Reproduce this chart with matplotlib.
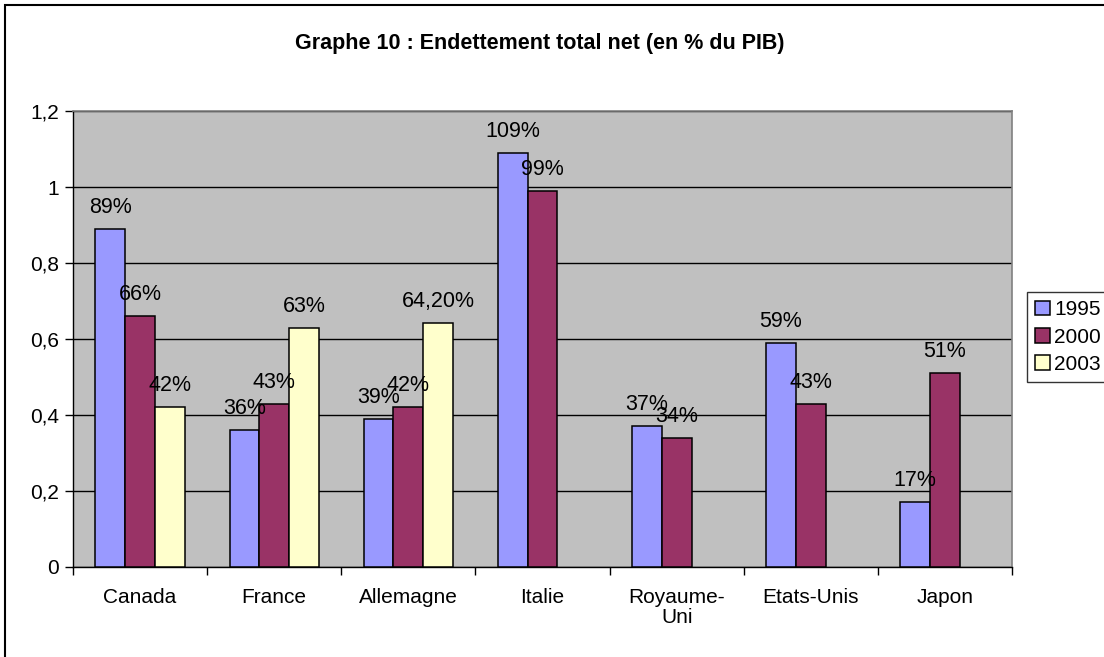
import matplotlib.pyplot as plt
import numpy as np
from matplotlib.patches import Rectangle
from matplotlib.ticker import FuncFormatter, FixedLocator

plt.rcParams['font.family'] = ['Liberation Sans', 'DejaVu Sans']

countries = ['Canada', 'France', 'Allemagne', 'Italie', 'Royaume-\nUni', 'Etats-Unis', 'Japon']
years = ['1995', '2000', '2003']
v1995 = [0.89, 0.36, 0.39, 1.09, 0.37, 0.59, 0.17]
v2000 = [0.66, 0.43, 0.42, 0.99, 0.34, 0.43, 0.51]
v2003 = [0.42, 0.63, 0.642, np.nan, np.nan, np.nan, np.nan]
lab1995 = ['89%', '36%', '39%', '109%', '37%', '59%', '17%']
lab2000 = ['66%', '43%', '42%', '99%', '34%', '43%', '51%']
lab2003 = ['42%', '63%', '64,20%', '', '', '', '']
colors = ['#9999FF', '#993366', '#FFFFCC']

fig = plt.figure(figsize=(11.04, 6.57), dpi=100)
ax = fig.add_axes([73 / 1104, 1 - 567 / 657, (1012 - 73) / 1104, (567 - 111) / 657])
ax.set_facecolor('#C0C0C0')

# Excel-ish layout: 3 bars + 150% gap per category
bw = 1 / 4.5
x = np.arange(len(countries))
series = [v1995, v2000, v2003]
labels = [lab1995, lab2000, lab2003]
for i, (vals, labs) in enumerate(zip(series, labels)):
    pos = x + (i - 1) * bw
    ax.bar(pos, vals, width=bw, color=colors[i], edgecolor='black', linewidth=1.1,
           label=years[i], zorder=3)
    for p, v, t in zip(pos, vals, labs):
        if t:
            ax.annotate(t, (p, v), xytext=(0, 11.5), textcoords='offset points',
                        ha='center', va='baseline', fontsize=15.5, zorder=4)

ax.set_xlim(-0.5, len(countries) - 0.5)
ax.set_ylim(0, 1.2)
ax.set_yticks(np.arange(0, 1.21, 0.2))
ax.yaxis.set_major_formatter(FuncFormatter(lambda v, p: ('%g' % round(v, 1)).replace('.', ',')))
ax.grid(axis='y', color='black', linewidth=1, zorder=1)
ax.set_axisbelow(True)

ax.set_xticks(x)
ax.set_xticklabels(countries, fontsize=15, linespacing=1.05)
ax.xaxis.set_minor_locator(FixedLocator(np.arange(-0.5, len(countries), 1)))
ax.tick_params(axis='x', which='major', length=0, pad=15)
ax.tick_params(axis='x', which='minor', length=6, width=1, direction='out')
ax.tick_params(axis='y', length=6, width=1, direction='out', labelsize=15, pad=4)

for s in ['top', 'right']:
    ax.spines[s].set_color('#808080')
    ax.spines[s].set_linewidth(1.2)
for s in ['left', 'bottom']:
    ax.spines[s].set_color('black')
    ax.spines[s].set_linewidth(1)

fig.text(540 / 1104, 1 - 44 / 657, 'Graphe 10 : Endettement total net (en % du PIB)',
         ha='center', va='center', fontsize=15.5, fontweight='bold')

leg = fig.legend(loc='upper left', bbox_to_anchor=(1027 / 1104, 1 - 292 / 657),
                 fontsize=15, frameon=True, fancybox=False, edgecolor='black',
                 handlelength=0.7, handleheight=0.7, handletextpad=0.2,
                 labelspacing=0.4, borderaxespad=0, borderpad=0.4)
leg.get_frame().set_linewidth(1)

fig.patches.append(Rectangle((5 / 1104, -0.05), 1.2, 1 - 5 / 657 + 0.05,
                             transform=fig.transFigure, fill=False,
                             edgecolor='black', linewidth=1.5))

fig.savefig('out.png', dpi=100)
